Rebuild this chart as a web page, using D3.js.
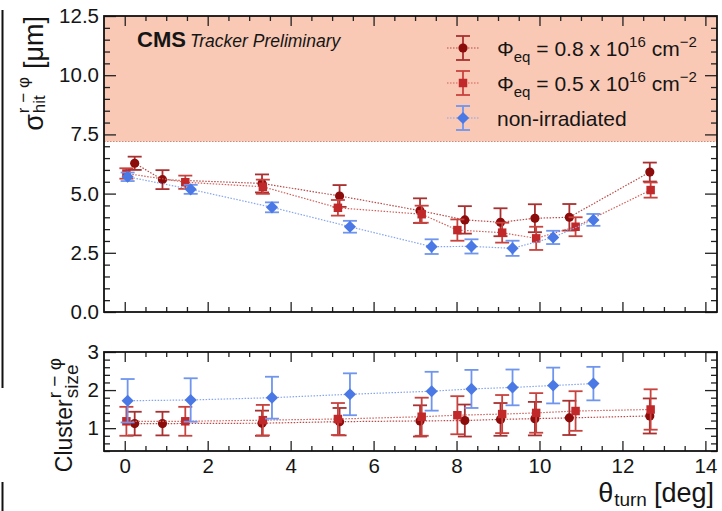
<!DOCTYPE html>
<html>
<head>
<meta charset="utf-8">
<script src="https://cdn.jsdelivr.net/npm/d3@7"></script>
<style>
    body { margin: 0; background: #fff; }
    text { font-family: "Liberation Sans", Arial, sans-serif; fill: #151515; }
</style>
</head>
<body>
<svg id="chart" width="722" height="511"></svg>
<script>
// turn angle of each measurement [deg]
var thetaHigh = [0.24, 0.91, 3.31, 5.18, 7.12, 8.20, 9.06, 9.89, 10.72, 12.66];
var thetaLow  = [0.04, 1.46, 3.33, 5.14, 7.16, 8.02, 9.10, 9.92, 10.87, 12.68];
var thetaNon  = [0.07, 1.59, 3.55, 5.43, 7.40, 8.36, 9.35, 10.33, 11.30];

// hit resolution [um]
var resHigh    = [6.28, 5.59, 5.43, 4.90, 4.28, 3.89, 3.79, 3.96, 4.00, 5.91];
var resHighErr = [0.28, 0.40, 0.38, 0.46, 0.52, 0.58, 0.59, 0.59, 0.56, 0.40];
var resLow     = [5.85, 5.48, 5.29, 4.40, 4.13, 3.46, 3.35, 3.11, 3.60, 5.15];
var resLowErr  = [0.22, 0.28, 0.30, 0.33, 0.36, 0.45, 0.42, 0.49, 0.40, 0.32];
var resNon     = [5.71, 5.18, 4.42, 3.60, 2.76, 2.77, 2.69, 3.15, 3.89];
var resNonErr  = [0.18, 0.19, 0.21, 0.25, 0.31, 0.30, 0.32, 0.28, 0.25];

// cluster size
var sizeHigh    = [1.12, 1.12, 1.13, 1.17, 1.19, 1.20, 1.23, 1.25, 1.27, 1.32];
var sizeHighErr = [0.31, 0.31, 0.33, 0.36, 0.41, 0.42, 0.43, 0.44, 0.45, 0.46];
var sizeLow     = [1.18, 1.18, 1.21, 1.24, 1.30, 1.34, 1.37, 1.40, 1.45, 1.49];
var sizeLowErr  = [0.38, 0.38, 0.40, 0.42, 0.50, 0.50, 0.50, 0.52, 0.52, 0.53];
var sizeNon     = [1.72, 1.74, 1.80, 1.89, 1.97, 2.03, 2.07, 2.12, 2.17];
var sizeNonErr  = [0.57, 0.57, 0.55, 0.55, 0.51, 0.50, 0.47, 0.47, 0.44];

// ticks
var xTicks = [0, 2, 4, 6, 8, 10, 12, 14];
var resTicks = [0, 2.5, 5, 7.5, 10, 12.5];
var sizeTicks = [1, 2, 3];
var resLimit = 7.2;   // shaded region starts here

// legend labels: [text, 0 normal / 1 sub / 2 sup]
var labelHigh = [["Φ", 0], ["eq", 1], [" = 0.8 x 10", 0], ["16", 2], [" cm", 0], ["−2", 2]];
var labelLow  = [["Φ", 0], ["eq", 1], [" = 0.5 x 10", 0], ["16", 2], [" cm", 0], ["−2", 2]];
var labelNon  = [["non-irradiated", 0]];

var series = [
    { label: labelHigh, theta: thetaHigh, res: resHigh, resErr: resHighErr, size: sizeHigh, sizeErr: sizeHighErr,
      symbol: d3.symbolCircle, area: 66, rot: 0, fill: "#8c0b0b", err: "#a83030", line: "#b84a48" },
    { label: labelLow, theta: thetaLow, res: resLow, resErr: resLowErr, size: sizeLow, sizeErr: sizeLowErr,
      symbol: d3.symbolSquare, area: 72, rot: 0, fill: "#c0282a", err: "#c8423e", line: "#d2605a" },
    { label: labelNon, theta: thetaNon, res: resNon, resErr: resNonErr, size: sizeNon, sizeErr: sizeNonErr,
      symbol: d3.symbolSquare, area: 74, rot: 45, fill: "#4a79e6", err: "#6f95ee", line: "#86a5ef" }
];

var svg = d3.select("#chart");
var left = 104, right = 717;
var topY = 16, topBottom = 312, botTop = 352, botBottom = 451;

var x = d3.scaleLinear().domain([-0.5, 14.28]).range([left, right]);
var yRes = d3.scaleLinear().domain([0, 12.5]).range([topBottom, topY]);
var ySize = d3.scaleLinear().domain([0.4, 3]).range([botBottom, botTop]);

var xMinor = d3.range(0, 29).map(function(i) { return i / 2; }).filter(function(v) { return v % 2 != 0; });
var resMinor = d3.range(0, 26).map(function(i) { return i / 2; }).filter(function(v) { return v % 2.5 != 0; });
var sizeMinor = d3.range(2, 16).map(function(i) { return i / 5; }).filter(function(v) { return Math.abs(v - Math.round(v)) > 1e-6; });

// little crop marks on the left edge of the picture
svg.append("line").attr("x1", 2.5).attr("x2", 2.5).attr("y1", 10).attr("y2", 388)
    .attr("stroke", "#111").attr("stroke-width", 2);
svg.append("line").attr("x1", 2.5).attr("x2", 2.5).attr("y1", 482).attr("y2", 511)
    .attr("stroke", "#111").attr("stroke-width", 2);

// shaded band above the limit
svg.append("rect")
    .attr("x", left).attr("y", yRes(12.5))
    .attr("width", right - left).attr("height", yRes(resLimit) - yRes(12.5))
    .attr("fill", "#f9c9b5");
svg.append("line")
    .attr("x1", left).attr("x2", right).attr("y1", yRes(resLimit)).attr("y2", yRes(resLimit))
    .attr("stroke", "#c98c7c").attr("stroke-width", 1.2).attr("stroke-dasharray", "1.5,1.5");

function frame(y, yMajor, yMinor, yFmt, top, bottom, showX) {
    var g = svg.append("g").attr("class", "frame");
    function add(axis, tx, ty) {
        g.append("g").attr("transform", "translate(" + tx + "," + ty + ")").call(axis)
            .call(function(a) { a.select(".domain").remove(); });
    }
    add(d3.axisLeft(y).tickValues(yMajor).tickSize(-12).tickPadding(5).tickFormat(yFmt), left, 0);
    add(d3.axisLeft(y).tickValues(yMinor).tickSize(-6).tickFormat(""), left, 0);
    add(d3.axisRight(y).tickValues(yMajor).tickSize(-12).tickFormat(""), right, 0);
    add(d3.axisRight(y).tickValues(yMinor).tickSize(-6).tickFormat(""), right, 0);
    add(d3.axisBottom(x).tickValues(xTicks).tickSize(-10).tickPadding(7)
        .tickFormat(showX ? d3.format("d") : ""), 0, bottom);
    add(d3.axisBottom(x).tickValues(xMinor).tickSize(-5).tickFormat(""), 0, bottom);
    add(d3.axisTop(x).tickValues(xTicks).tickSize(-10).tickFormat(""), 0, top);
    add(d3.axisTop(x).tickValues(xMinor).tickSize(-5).tickFormat(""), 0, top);
    g.selectAll(".tick line").attr("stroke", "#222").attr("stroke-width", 1.3);
    g.selectAll(".tick text").style("font-size", "20.5px").attr("fill", "#151515");
    g.append("rect").attr("x", left).attr("y", top).attr("width", right - left).attr("height", bottom - top)
        .attr("fill", "none").attr("stroke", "#111").attr("stroke-width", 1.8);
}

function drawSeries(yScale, key, errKey) {
    series.forEach(function(s) {
        var pts = s.theta.map(function(t, i) { return { t: t, v: s[key][i], e: s[errKey][i] }; });
        var gs = svg.append("g");
        gs.append("path").datum(pts)
            .attr("d", d3.line().x(function(d) { return x(d.t); }).y(function(d) { return yScale(d.v); }))
            .attr("fill", "none").attr("stroke", s.line).attr("stroke-width", 1.2)
            .attr("stroke-dasharray", "1.5,1.5");
        var eb = gs.selectAll(".eb").data(pts).enter().append("g").attr("class", "eb")
            .attr("stroke", s.err).attr("stroke-width", 1.8);
        eb.append("line")
            .attr("x1", function(d) { return x(d.t); }).attr("x2", function(d) { return x(d.t); })
            .attr("y1", function(d) { return yScale(d.v - d.e); }).attr("y2", function(d) { return yScale(d.v + d.e); });
        [-1, 1].forEach(function(sign) {
            eb.append("line")
                .attr("x1", function(d) { return x(d.t) - 7; }).attr("x2", function(d) { return x(d.t) + 7; })
                .attr("y1", function(d) { return yScale(d.v + sign * d.e); })
                .attr("y2", function(d) { return yScale(d.v + sign * d.e); });
        });
        gs.selectAll(".mk").data(pts).enter().append("path").attr("class", "mk")
            .attr("d", d3.symbol(s.symbol, s.area))
            .attr("transform", function(d) {
                return "translate(" + x(d.t) + "," + yScale(d.v) + ") rotate(" + s.rot + ")";
            })
            .attr("fill", s.fill);
    });
}

frame(yRes, resTicks, resMinor, d3.format(".1f"), topY, topBottom, false);
frame(ySize, sizeTicks, sizeMinor, d3.format("d"), botTop, botBottom, true);
drawSeries(yRes, "res", "resErr");
drawSeries(ySize, "size", "sizeErr");

// CMS label
var cms = svg.append("text").attr("x", 137).attr("y", 47);
cms.append("tspan").style("font-size", "22px").style("font-weight", "bold").text("CMS");
cms.append("tspan").style("font-size", "17.5px").style("font-style", "italic").attr("dx", 4).text("Tracker Preliminary");

// legend
var legend = svg.append("g");
series.forEach(function(s, i) {
    var ly = 48 + i * 35, lx = 463;
    var row = legend.append("g");
    row.append("line").attr("x1", lx - 16).attr("x2", lx + 16).attr("y1", ly).attr("y2", ly)
        .attr("stroke", s.line).attr("stroke-width", 1.2).attr("stroke-dasharray", "1.5,1.5");
    row.append("line").attr("x1", lx).attr("x2", lx).attr("y1", ly - 12).attr("y2", ly + 12)
        .attr("stroke", s.err).attr("stroke-width", 1.8);
    [-12, 12].forEach(function(off) {
        row.append("line").attr("x1", lx - 7).attr("x2", lx + 7).attr("y1", ly + off).attr("y2", ly + off)
            .attr("stroke", s.err).attr("stroke-width", 1.8);
    });
    row.append("path").attr("d", d3.symbol(s.symbol, s.area))
        .attr("transform", "translate(" + lx + "," + ly + ") rotate(" + s.rot + ")").attr("fill", s.fill);
    var t = row.append("text").attr("x", 497).attr("y", ly + 7.5).style("font-size", "21px");
    var shift = 0;
    s.label.forEach(function(p) {
        var target = p[1] == 1 ? 6 : (p[1] == 2 ? -9 : 0);
        t.append("tspan").attr("dy", target - shift)
            .style("font-size", p[1] == 0 ? "21px" : "15px").text(p[0]);
        shift = target;
    });
});

// titles with stacked super/subscripts
function scriptTitle(o) {
    var g = svg.append("g");
    var main = g.append("text").style("font-size", o.size + "px").text(o.main);
    var cur = main.node().getComputedTextLength() + 1;
    var w = 0;
    if (o.sup) {
        var sp = g.append("text").attr("x", cur).attr("y", o.supDy).style("font-size", o.supSize + "px").text(o.sup);
        w = Math.max(w, sp.node().getComputedTextLength());
    }
    if (o.sub) {
        var sb = g.append("text").attr("x", cur).attr("y", o.subDy).style("font-size", o.subSize + "px").text(o.sub);
        w = Math.max(w, sb.node().getComputedTextLength());
    }
    cur += w;
    if (o.tail) {
        var tl = g.append("text").attr("x", cur + o.gap).style("font-size", o.size + "px").text(o.tail);
        cur += o.gap + tl.node().getComputedTextLength();
    }
    if (o.vertical) {
        g.attr("transform", "translate(" + o.base + "," + (o.end + cur) + ") rotate(-90)");
    } else {
        g.attr("transform", "translate(" + (o.end - cur) + "," + o.base + ")");
    }
}

scriptTitle({ main: "σ", sup: "r − φ", sub: "hit", tail: "[μm]", size: 27, supSize: 17, subSize: 17,
    supDy: -14, subDy: 2, gap: 8, vertical: true, base: 43, end: 16 });
scriptTitle({ main: "Cluster", sup: "r − φ", sub: "size", size: 23, supSize: 19, subSize: 19,
    supDy: -11, subDy: 6, gap: 0, vertical: true, base: 72, end: 358 });
scriptTitle({ main: "θ", sub: "turn", tail: "[deg]", size: 27, subSize: 19,
    subDy: 4, gap: 7, vertical: false, base: 502, end: 714 });
</script>
</body>
</html>
